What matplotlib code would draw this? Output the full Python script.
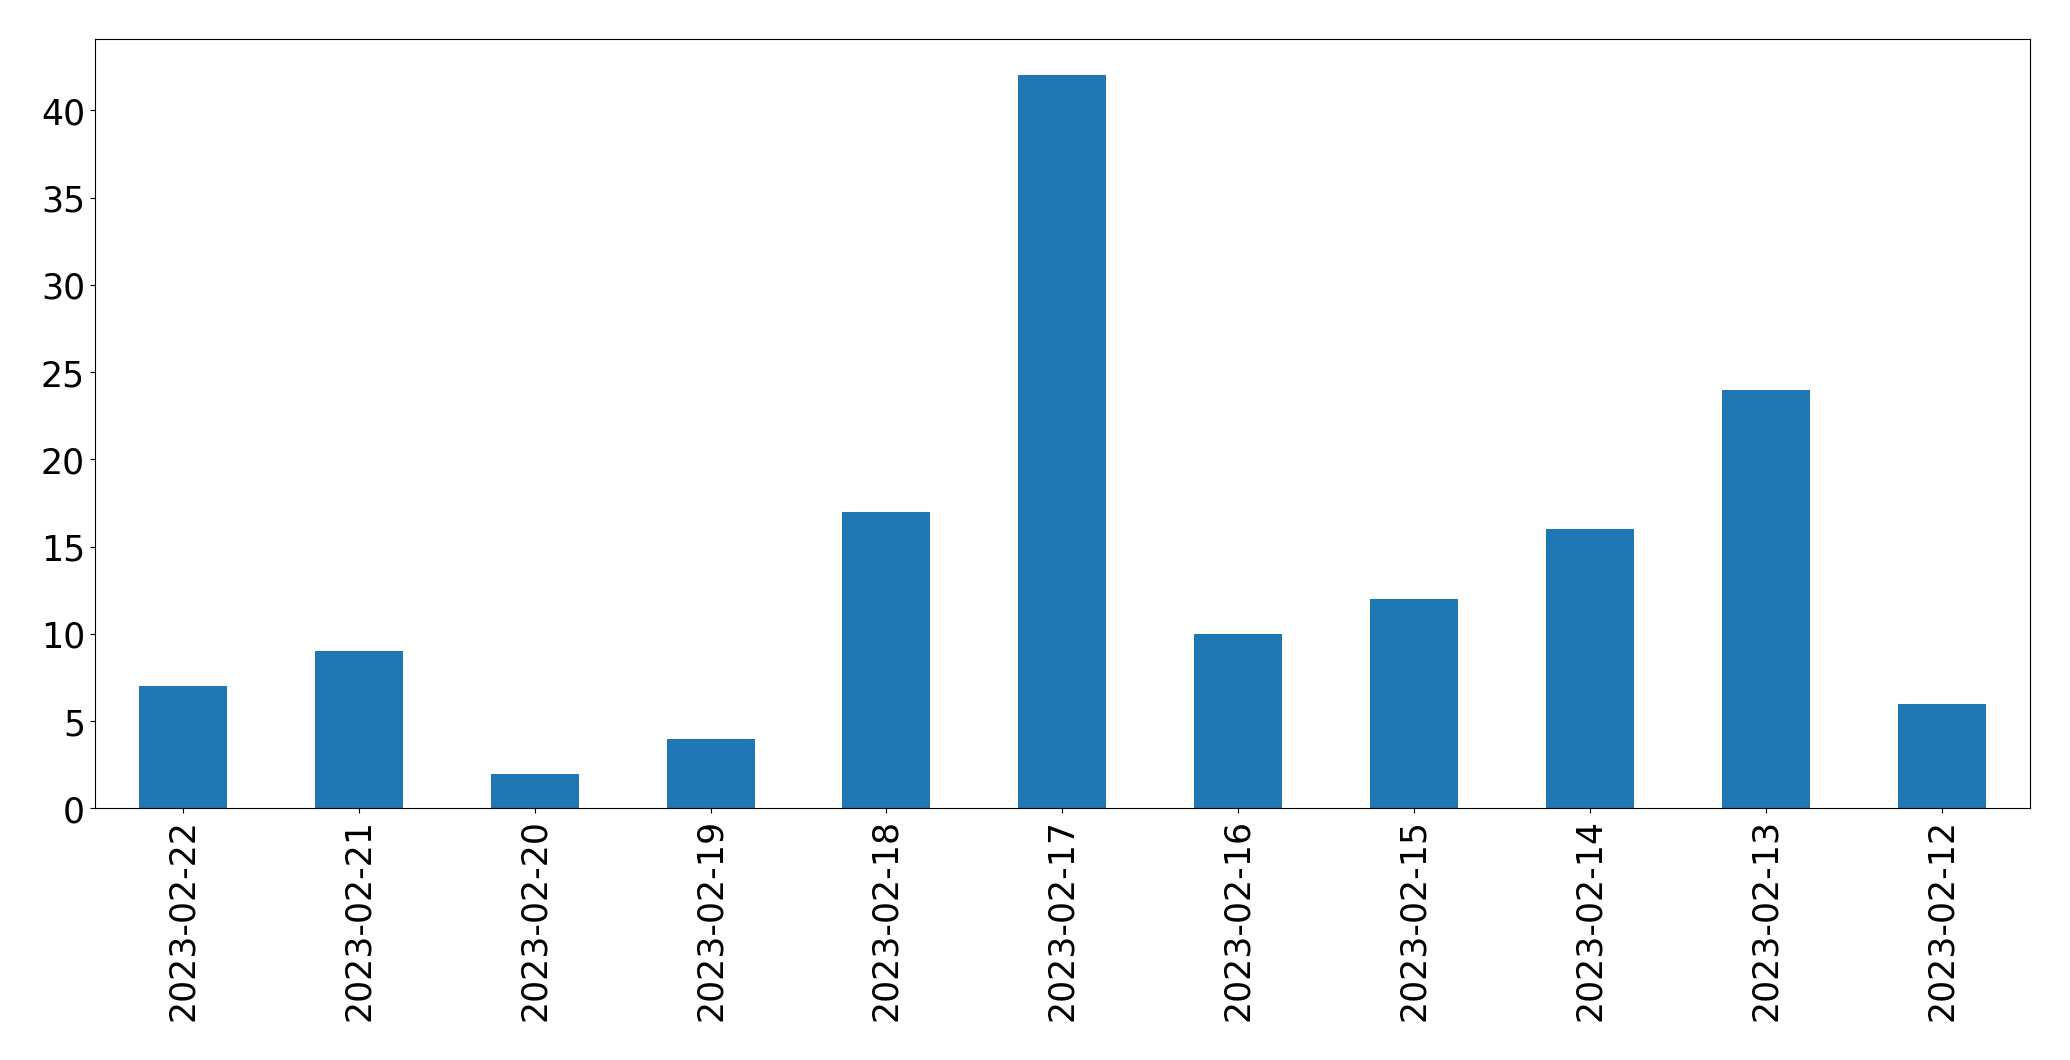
import numpy as np
import matplotlib
matplotlib.use('Agg')
import matplotlib.pyplot as plt

dates = ['2023-02-22', '2023-02-21', '2023-02-20', '2023-02-19', '2023-02-18',
         '2023-02-17', '2023-02-16', '2023-02-15', '2023-02-14', '2023-02-13',
         '2023-02-12']
counts = [7, 9, 2, 4, 17, 42, 10, 12, 16, 24, 6]

fig = plt.figure(figsize=(20.705, 10.605), dpi=100)
ax = fig.add_axes([94.7 / 2071, 1 - 809.3 / 1061, 1936 / 2071, 770 / 1061])

x = np.arange(len(dates))
ax.bar(x, counts, width=0.5, color='#1f77b4')
ax.set_xlim(-0.5, len(dates) - 0.5)
ax.set_ylim(0, max(counts) * 1.05)
ax.set_xticks(x)
ax.set_xticklabels(dates, rotation=90)
ax.tick_params(labelsize=25)

fig.savefig('out.png', dpi=100)
